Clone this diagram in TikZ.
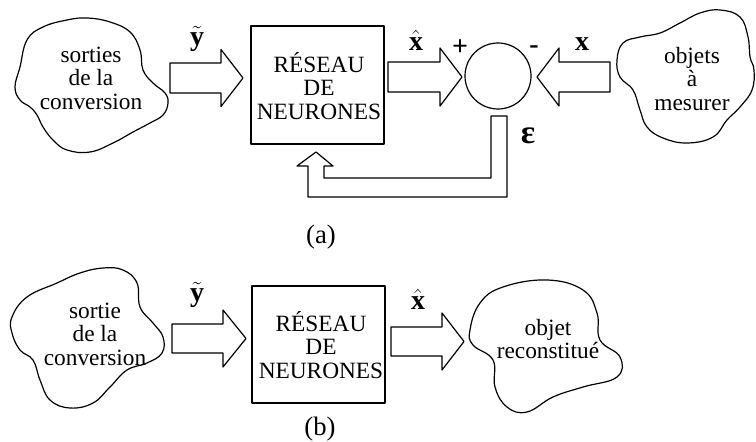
\documentclass[tikz,border=0pt]{standalone}
\usepackage{amsmath}
\usepackage{fontspec}
\setmainfont{Liberation Serif}

% hollow block arrow: start x, head-base x, tip x, middle y, half body, half head
\newcommand{\hollowarrow}[6]{%
  \draw[blockarrow] (#1,#4-#5) -- (#2,#4-#5) -- (#2,#4-#6) -- (#3,#4)
    -- (#2,#4+#6) -- (#2,#4+#5) -- (#1,#4+#5) -- cycle;}

\begin{document}
\begin{tikzpicture}[x=0.75pt,y=-0.75pt,
  outline/.style={draw=black,line width=0.9pt,line join=round},
  blockarrow/.style={outline,fill=white},
  blob/.style={outline,fill=white},
  body/.style={font=\fontsize{17.5}{17.6}\selectfont,align=center,inner sep=0pt},
  sym/.style={font=\fontsize{21}{21}\selectfont,inner sep=0pt},
  caption/.style={font=\fontsize{20}{20}\selectfont,inner sep=0pt}]
\useasboundingbox (0,0) rectangle (756,442);

% ---------- (a) learning loop ----------
\draw[blob] plot[smooth cycle,tension=0.7] coordinates {
  (20,67) (27,40) (43,27) (67,20) (87,18) (110,22) (130,32) (140,50)
  (143,70) (153,83) (165,93) (168,103) (163,115) (150,123) (133,132)
  (113,143) (90,152) (67,150) (53,140) (43,127) (37,115) (30,107)
  (20,100) (15,87)};
\node[body] (src1) at (91,78) {sorties\\de la\\conversion};

\node[outline,minimum width=99.75pt,minimum height=88.5pt] (net1) at (317.5,85) {};
\node[body] (net1txt) at (319,86) {RÉSEAU\\DE\\NEURONES};

\node[outline,circle,minimum size=49.5pt,inner sep=0pt] (sum) at (498,76) {};

\draw[blob] plot[smooth cycle,tension=0.7] coordinates {
  (617,60) (623,43) (640,37) (660,33) (680,23) (700,13) (720,10)
  (740,17) (748,37) (750,57) (754,70) (752,90) (740,107) (727,120)
  (713,137) (687,143) (663,138) (647,127) (640,110) (633,90) (620,77)};
\node[body] (obj1) at (692,79) {objets\\à\\mesurer};

\hollowarrow{170}{221}{243}{78}{15}{28.5}
\hollowarrow{388}{440}{462}{77}{15}{29}
\hollowarrow{610}{559}{537}{77}{15}{29}

% error fed back to the network
\draw[blockarrow] (491,116) -- (507,116) -- (507,197) -- (308,197)
  -- (308,166) -- (297,166) -- (316,152) -- (333,166) -- (324,166)
  -- (324,178) -- (491,178) -- cycle;

\node[sym] (ylab1) at (197,39) {$\tilde{\mathbf{y}}$};
\node[sym] (xhat1) at (416,40) {$\hat{\mathbf{x}}$};
\node[sym] (xlab1) at (582,44) {$\mathbf{x}$};
\node[font=\fontsize{21}{21}\selectfont\bfseries,inner sep=0pt] (plus) at (460,48) {+};
\node[font=\fontsize{21}{21}\selectfont\bfseries,inner sep=0pt] (minus) at (534,50) {-};
\node[font=\fontsize{25}{25}\selectfont\bfseries,inner sep=0pt] (eps) at (528,136) {ɛ};
\node[caption] (capa) at (321,237) {(a)};

% ---------- (b) reconstruction ----------
\draw[blob] plot[smooth cycle,tension=0.7] coordinates {
  (12,317) (27,297) (57,283) (80,273) (103,268) (123,270) (137,283)
  (140,307) (153,323) (163,337) (162,353) (147,363) (127,370) (110,387)
  (93,403) (70,408) (50,400) (40,380) (33,360) (20,350) (12,333)};
\node[body] (src2) at (95,334) {sortie\\de la\\conversion};

\node[outline,minimum width=99.75pt,minimum height=87.75pt] (net2) at (318.5,344.5) {};
\node[body] (net2txt) at (321,345) {RÉSEAU\\DE\\NEURONES};

\draw[blob] plot[smooth cycle,tension=0.7] coordinates {
  (470,330) (480,303) (503,287) (547,280) (583,290) (597,313) (600,340)
  (620,357) (617,377) (583,387) (553,397) (527,412) (507,407) (495,387)
  (493,360) (473,345)};
\node[body] (obj2) at (548,339) {objet\\reconstitué};

\hollowarrow{172}{223}{246}{338.5}{14.5}{28.5}
\hollowarrow{391}{442}{464}{341.5}{14.5}{28.5}

\node[sym] (ylab2) at (197,295) {$\tilde{\mathbf{y}}$};
\node[sym] (xhat2) at (418,299) {$\hat{\mathbf{x}}$};
\node[caption] (capb) at (320,429) {(b)};
\end{tikzpicture}
\end{document}
